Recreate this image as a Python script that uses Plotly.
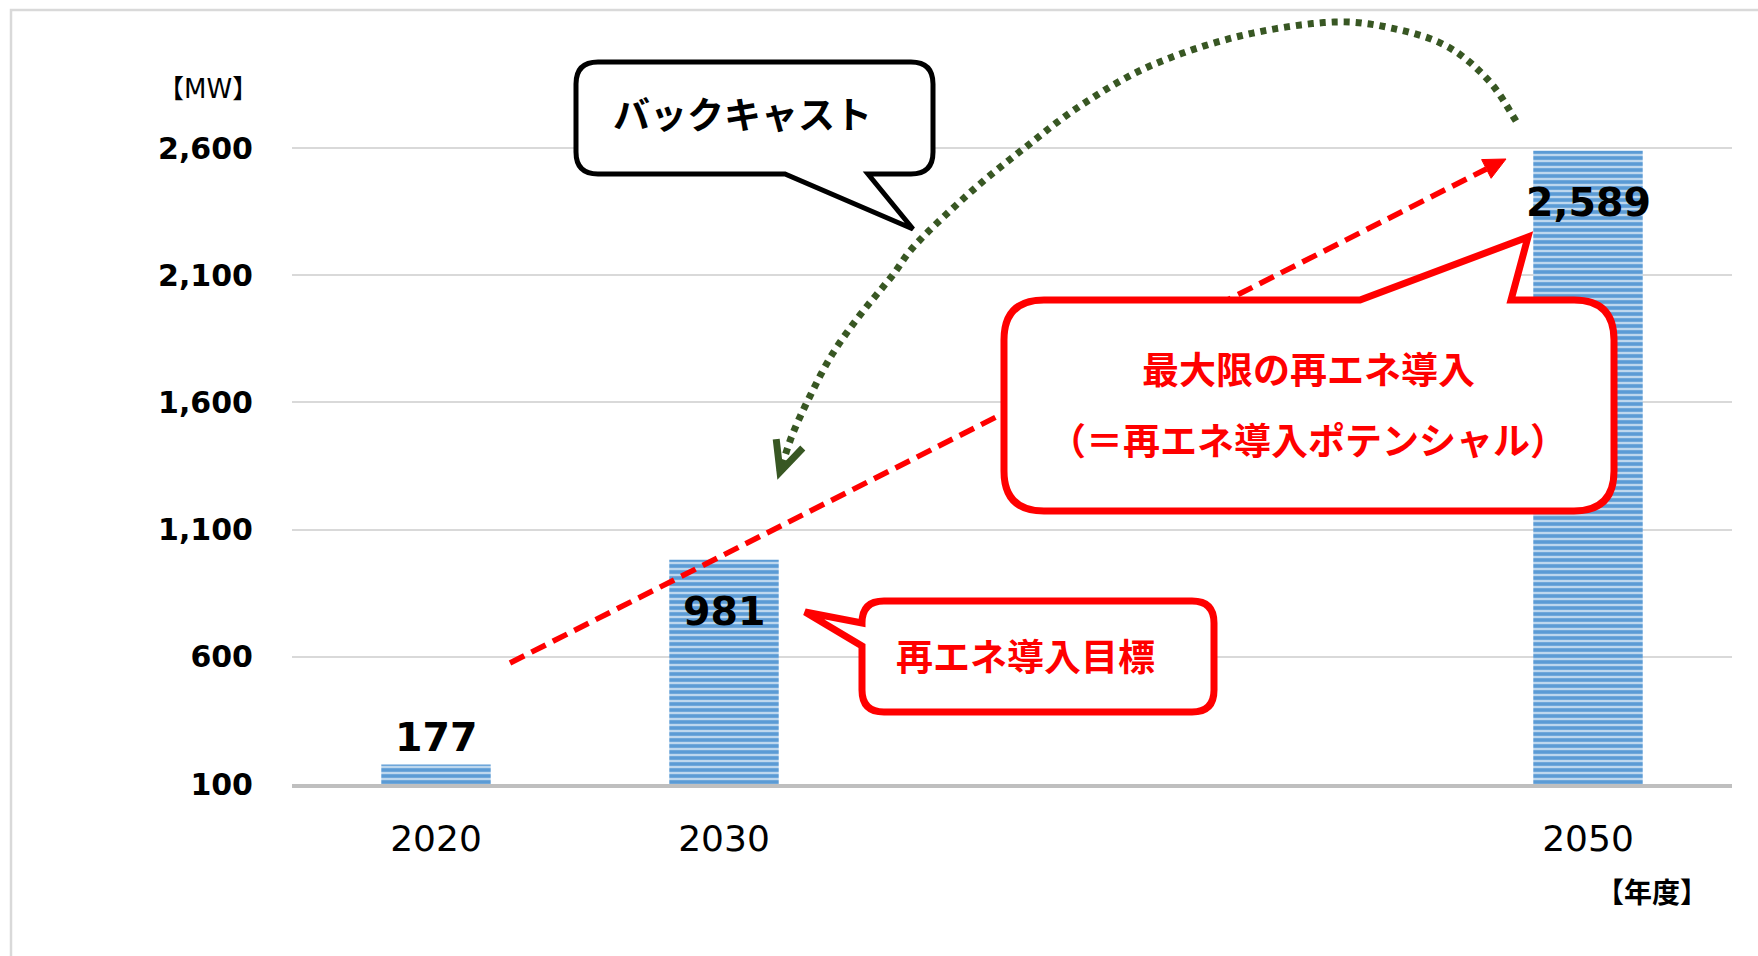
import plotly.graph_objects as go
import math

# ---------------- data ----------------
categories = ["2020", "2030", "", "", "2050"]
capacity_mw = [177, 981, None, None, 2589]
value_labels = ["177", "981", "", "", "2,589"]
ytick_vals = [100, 600, 1100, 1600, 2100, 2600]
ytick_text = ["100", "600", "1,100", "1,600", "2,100", "2,600"]
y_unit = "【MW】"
x_unit = "【年度】"
callout_backcast = "バックキャスト"
callout_target = "再エネ導入目標"
callout_potential = ["最大限の再エネ導入", "（＝再エネ導入ポテンシャル）"]

# ---------------- layout geometry (pixels) ----------------
W, H = 1758, 956
ML, MR, MT, MB = 292, 26, 143, 172
PW = W - ML - MR
PH = H - MT - MB
Y_BOTTOM = 100
Y_MAX = Y_BOTTOM + 2500 * PH / 636.0   # 2600 gridline at y=148 px


def px(x):
    return (x - ML) / PW


def py(y):
    return (H - MB - y) / PH


def P(x, y):
    return f"{px(x):.5f},{py(y):.5f}"


# label offsets (pixels) relative to bar top
label_shift = [27, -51, 0, 0, -51]

RED = "#FF0000"
GREEN = "#385723"
BLUE = "#5B9BD5"
LIGHTBLUE = "#BDD7EE"

x_idx = list(range(len(categories)))

fig = go.Figure()
fig.add_trace(go.Bar(
    x=x_idx, y=capacity_mw, width=0.38,
    marker=dict(color=LIGHTBLUE, line=dict(width=0),
                pattern=dict(shape="-", fgcolor=BLUE, bgcolor=LIGHTBLUE,
                             fgopacity=1, size=6, solidity=0.6)),
    hoverinfo="skip", showlegend=False,
))

shapes = []
annotations = []

# outer frame
shapes.append(dict(type="rect", xref="paper", yref="paper",
                   x0=px(11), x1=px(1775), y0=py(10), y1=py(975),
                   line=dict(color="#D9D9D9", width=2.5), layer="below"))

# red dashed arrow line (2020 -> 2050)
sx, sy = 510, 663
tx, ty = 1506, 159
L = math.hypot(tx - sx, ty - sy)
ux, uy = (tx - sx) / L, (ty - sy) / L
nx, ny = -uy, ux
bx, by = tx - 22 * ux, ty - 22 * uy
shapes.append(dict(type="line", xref="paper", yref="paper",
                   x0=px(sx), y0=py(sy), x1=px(bx), y1=py(by),
                   line=dict(color=RED, width=5.5, dash="16px,8px"), layer="above"))
shapes.append(dict(type="path", xref="paper", yref="paper",
                   path=f"M{P(tx, ty)} L{P(bx + 10.5 * nx, by + 10.5 * ny)} L{P(bx - 10.5 * nx, by - 10.5 * ny)} Z",
                   fillcolor=RED, line=dict(color=RED, width=1), layer="above"))

# green dotted arc (2050 -> 2030)
arc_pts = [(1516, 121), (1490, 82), (1450, 48), (1400, 30), (1334, 22), (1240, 36),
           (1150, 66), (1080, 106), (1022, 150), (973, 190), (917, 243), (892, 276),
           (860, 315), (833, 353), (813, 390), (793, 433), (780, 472)]


def catmull(pts, n=8):
    out = []
    ext = [pts[0]] + pts + [pts[-1]]
    for i in range(1, len(ext) - 2):
        p0, p1, p2, p3 = ext[i - 1], ext[i], ext[i + 1], ext[i + 2]
        for k in range(n):
            t = k / n
            t2, t3 = t * t, t * t * t
            x = 0.5 * ((2 * p1[0]) + (-p0[0] + p2[0]) * t + (2 * p0[0] - 5 * p1[0] + 4 * p2[0] - p3[0]) * t2 + (-p0[0] + 3 * p1[0] - 3 * p2[0] + p3[0]) * t3)
            y = 0.5 * ((2 * p1[1]) + (-p0[1] + p2[1]) * t + (2 * p0[1] - 5 * p1[1] + 4 * p2[1] - p3[1]) * t2 + (-p0[1] + 3 * p1[1] - 3 * p2[1] + p3[1]) * t3)
            out.append((x, y))
    out.append(pts[-1])
    return out


sm = catmull(arc_pts)
arc_path = "M" + " L".join(P(x, y) for x, y in sm)
shapes.append(dict(type="path", xref="paper", yref="paper", path=arc_path,
                   line=dict(color=GREEN, width=7, dash="6px,6px"), layer="above"))
# open arrow head
ax, ay = 780, 472
dxa, dya = 780 - 793, 472 - 433
la = math.hypot(dxa, dya)
dxa, dya = dxa / la, dya / la
bxa, bya = ax - 30 * dxa, ay - 30 * dya
nxa, nya = -dya, dxa
shapes.append(dict(type="path", xref="paper", yref="paper",
                   path=f"M{P(bxa + 14 * nxa, bya + 14 * nya)} L{P(ax, ay)} L{P(bxa - 14 * nxa, bya - 14 * nya)}",
                   line=dict(color=GREEN, width=7), layer="above"))

# black callout "バックキャスト"
x0, y0, x1, y1, r = 576, 62, 933, 174, 22
p = (f"M{P(x0 + r, y0)} L{P(x1 - r, y0)} Q{P(x1, y0)} {P(x1, y0 + r)} L{P(x1, y1 - r)} "
     f"Q{P(x1, y1)} {P(x1 - r, y1)} L{P(868, y1)} L{P(913, 229)} L{P(785, y1)} "
     f"L{P(x0 + r, y1)} Q{P(x0, y1)} {P(x0, y1 - r)} L{P(x0, y0 + r)} Q{P(x0, y0)} {P(x0 + r, y0)} Z")
shapes.append(dict(type="path", xref="paper", yref="paper", path=p,
                   fillcolor="white", line=dict(color="black", width=5), layer="above"))

# red callout "再エネ導入目標"
x0, y0, x1, y1, r = 862, 601, 1214, 712, 22
p = (f"M{P(x0 + r, y0)} L{P(x1 - r, y0)} Q{P(x1, y0)} {P(x1, y0 + r)} L{P(x1, y1 - r)} "
     f"Q{P(x1, y1)} {P(x1 - r, y1)} L{P(x0 + r, y1)} Q{P(x0, y1)} {P(x0, y1 - r)} "
     f"L{P(x0, 646)} L{P(805, 612)} L{P(x0, 623)} L{P(x0, y0 + r)} Q{P(x0, y0)} {P(x0 + r, y0)} Z")
shapes.append(dict(type="path", xref="paper", yref="paper", path=p,
                   fillcolor="white", line=dict(color=RED, width=7), layer="above"))

# red callout potential
x0, y0, x1, y1, r = 1004, 300, 1614, 511, 40
p = (f"M{P(x0 + r, y0)} L{P(1360, y0)} L{P(1528, 237)} L{P(1511, y0)} L{P(x1 - r, y0)} "
     f"Q{P(x1, y0)} {P(x1, y0 + r)} L{P(x1, y1 - r)} Q{P(x1, y1)} {P(x1 - r, y1)} "
     f"L{P(x0 + r, y1)} Q{P(x0, y1)} {P(x0, y1 - r)} L{P(x0, y0 + r)} Q{P(x0, y0)} {P(x0 + r, y0)} Z")
shapes.append(dict(type="path", xref="paper", yref="paper", path=p,
                   fillcolor="white", line=dict(color=RED, width=7), layer="above"))

CJK = "Noto Sans CJK JP"
LAT = "DejaVu Sans"


def txt(x, y, s, size, color="black", family=CJK, bold=True):
    annotations.append(dict(xref="paper", yref="paper", x=px(x), y=py(y),
                            text=f"<b>{s}</b>" if bold else s, showarrow=False,
                            xanchor="center", yanchor="middle",
                            font=dict(family=family, size=size, color=color)))


txt(742, 113, callout_backcast, 37)
txt(1025, 655, callout_target, 37, RED)
txt(1308, 368, callout_potential[0], 37, RED)
txt(1308, 439, callout_potential[1], 37, RED)
txt(208, 89, y_unit, 26, family=f"{LAT}, {CJK}", bold=False)
txt(1652, 893, x_unit, 28, family=f"{LAT}, {CJK}")

# value labels
for i, (v, lab) in enumerate(zip(capacity_mw, value_labels)):
    if v is None:
        continue
    annotations.append(dict(x=i, y=v, xref="x", yref="y", text=f"<b>{lab}</b>",
                            showarrow=False, xanchor="center", yanchor="middle",
                            yshift=label_shift[i],
                            font=dict(family=LAT, size=39.5, color="black")))

fig.update_layout(
    width=W, height=H,
    margin=dict(l=ML, r=MR, t=MT, b=MB, pad=0),
    paper_bgcolor="white", plot_bgcolor="white",
    showlegend=False,
    shapes=shapes, annotations=annotations,
    xaxis=dict(range=[-0.5, len(categories) - 0.5], tickmode="array",
               tickvals=x_idx, ticktext=categories, showgrid=False,
               showline=True, linecolor="#BFBFBF", linewidth=4, ticks="",
               tickfont=dict(family=LAT, size=36, color="black"),
               ticklabelstandoff=20, zeroline=False, fixedrange=True),
    yaxis=dict(range=[Y_BOTTOM, Y_MAX], tickmode="array", tickvals=ytick_vals,
               ticktext=[f"<b>{t}</b>" for t in ytick_text],
               showgrid=True, gridcolor="#D9D9D9", gridwidth=2,
               showline=False, zeroline=False, ticks="",
               tickfont=dict(family=LAT, size=30, color="black"),
               ticklabelstandoff=38, fixedrange=True),
)

fig.write_html("out.html")
